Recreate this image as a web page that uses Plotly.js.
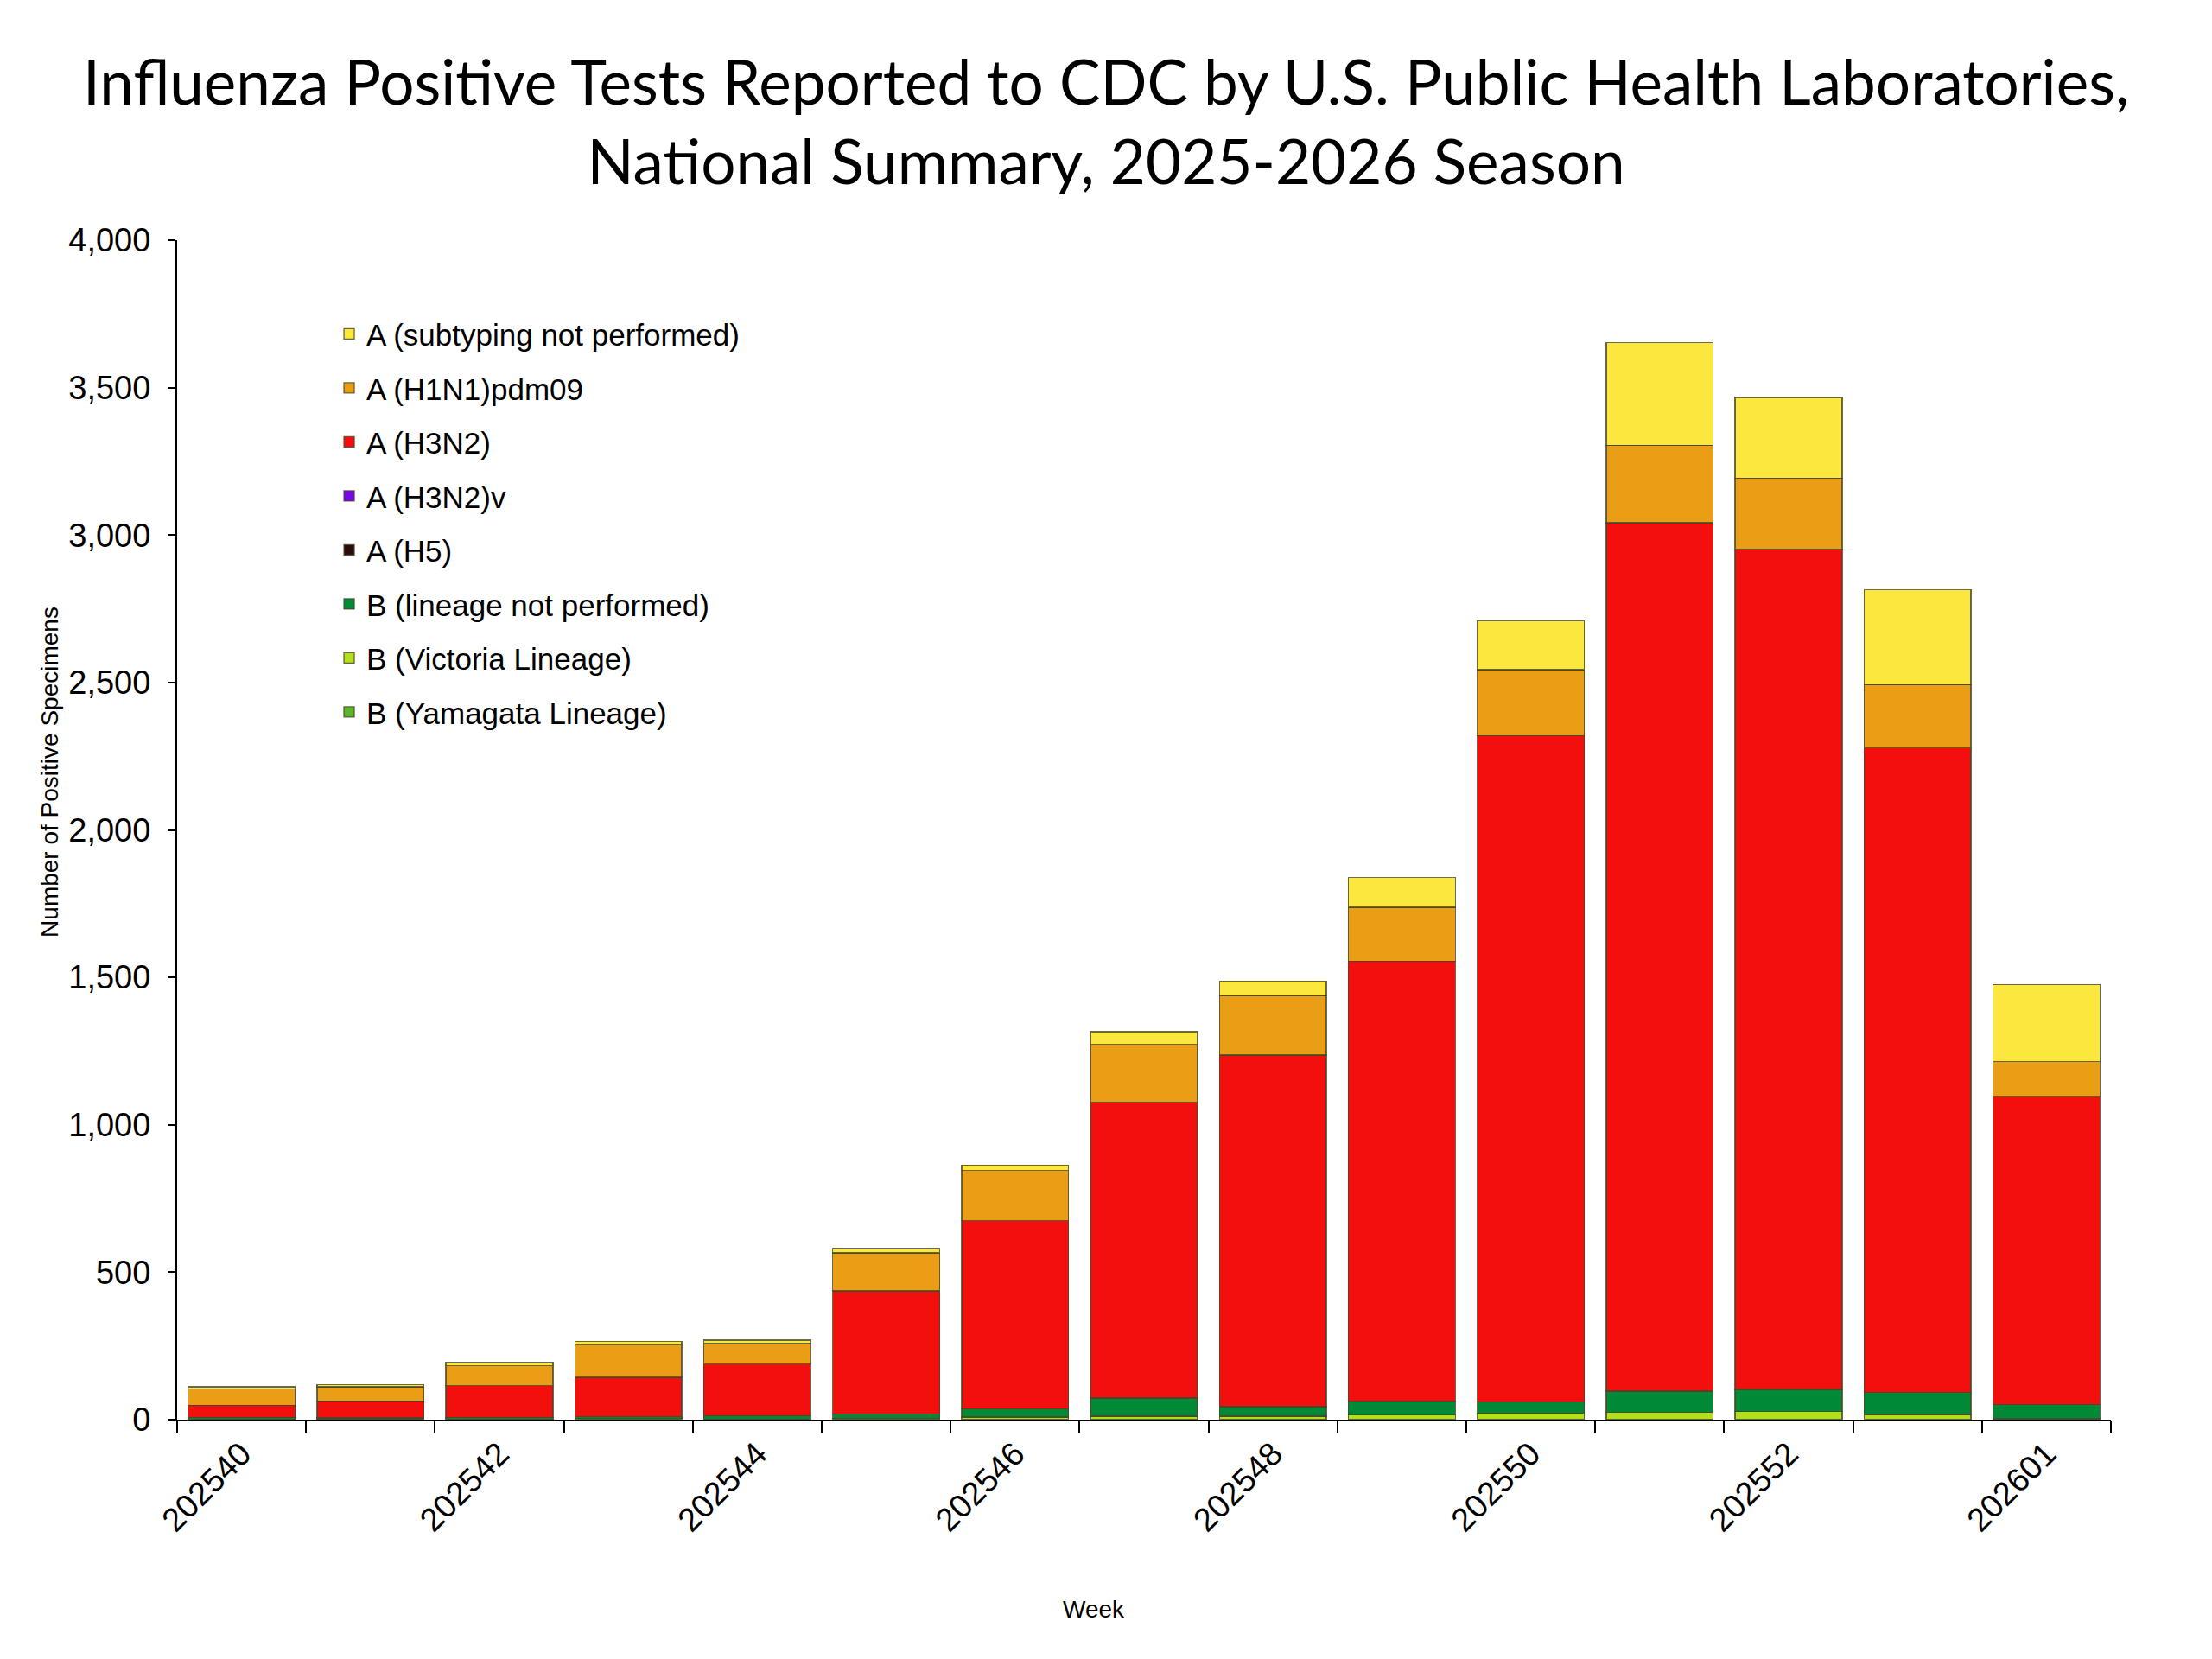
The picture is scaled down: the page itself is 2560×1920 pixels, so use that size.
<!DOCTYPE html>
<html>
<head>
<meta charset="utf-8">
<script src="https://cdn.plot.ly/plotly-3.0.1.min.js"></script>
<style>
  html, body { margin: 0; padding: 0; background: #fff; }
  #plot { width: 2560px; height: 1920px; }
</style>
</head>
<body>
<div id="plot"></div>
<script>
// Semanas epidemiologicas (categorias del eje x)
var weeks = ['202540', '202541', '202542', '202543', '202544', '202545', '202546', '202547',
             '202548', '202549', '202550', '202551', '202552', '202553', '202601'];

// Solo se rotula una semana de cada dos
var weekLabels = ['202540', '', '202542', '', '202544', '', '202546', '',
                  '202548', '', '202550', '', '202552', '', '202601'];

// Valores (de abajo hacia arriba en la pila)
var bYamagata     = [0, 0, 0, 0, 0, 0, 0, 0, 0, 0, 0, 0, 0, 0, 0];
var bVictoria     = [1, 1, 2, 4, 2, 5, 9, 12, 12, 16, 22, 24, 27, 18, 3];
var bNotPerformed = [7, 5, 5, 6, 11, 14, 27, 61, 32, 47, 39, 73, 76, 74, 48];
var aH5           = [0, 0, 0, 0, 0, 0, 0, 0, 0, 0, 0, 0, 0, 0, 0];
var aH3N2v        = [0, 0, 0, 0, 0, 0, 0, 0, 0, 0, 0, 0, 0, 0, 0];
var aH3N2         = [41, 58, 108, 134, 176, 418, 639, 1003, 1193, 1492, 2259, 2945, 2849, 2186, 1043];
var aH1N1         = [56, 47, 68, 109, 69, 129, 170, 197, 201, 183, 224, 263, 241, 215, 120];
var aNotSubtyped  = [6, 7, 10, 13, 12, 14, 19, 43, 50, 100, 165, 347, 274, 321, 262];

var yTicks = [0, 500, 1000, 1500, 2000, 2500, 3000, 3500, 4000];

(function (document, window) {
    document.addEventListener("DOMContentLoaded", function () {

        // Serie de barras apiladas; rango = posicion en la leyenda
        function serie(nombre, valores, color, rango) {
            return {
                type: 'bar',
                name: nombre,
                legendgroup: nombre,
                legendrank: rango,
                x: weeks,
                y: valores,
                marker: { color: color, line: { color: 'rgba(70,70,40,0.8)', width: 1.3 } },
                hoverinfo: 'skip'
            };
        }

        var data = [
            serie('B (Yamagata Lineage)', bYamagata, '#5cb52a', 8),
            serie('B (Victoria Lineage)', bVictoria, '#b4df1c', 7),
            serie('B (lineage not performed)', bNotPerformed, '#008a38', 6),
            serie('A (H5)', aH5, '#2e0b0b', 5),
            serie('A (H3N2)v', aH3N2v, '#7a06e6', 4),
            serie('A (H3N2)', aH3N2, '#f40f0f', 3),
            serie('A (H1N1)pdm09', aH1N1, '#e99e15', 2),
            serie('A (subtyping not performed)', aNotSubtyped, '#fbe73d', 1)
        ];

        var arial = 'Liberation Sans, Arial, sans-serif';
        var ejeFont = { family: arial, size: 38, color: '#000' };

        var layout = {
            width: 2560,
            height: 1920,
            paper_bgcolor: '#fff',
            plot_bgcolor: '#fff',
            barmode: 'stack',
            bargap: 0.17,
            margin: { l: 205, r: 117, t: 278, b: 277 },
            title: {
                text: 'Influenza Positive Tests Reported to CDC by U.S. Public Health Laboratories,<br>National Summary, 2025-2026 Season',
                font: { family: 'Lato, Open Sans, sans-serif', size: 71, color: '#000' },
                x: 0.5,
                xanchor: 'center',
                y: 0.937,
                yanchor: 'top'
            },
            xaxis: {
                type: 'category',
                tickmode: 'array',
                tickvals: weeks,
                ticktext: weekLabels,
                tickangle: -45,
                tickson: 'boundaries',
                ticks: 'outside',
                ticklen: 13,
                tickwidth: 2,
                tickcolor: '#000',
                tickfont: ejeFont,
                showline: true,
                linecolor: '#000',
                linewidth: 2,
                showgrid: false,
                zeroline: false
            },
            yaxis: {
                range: [0, 4000],
                tickmode: 'array',
                tickvals: yTicks,
                tickformat: ',d',
                ticks: 'outside',
                ticklen: 9,
                tickwidth: 2,
                tickcolor: '#000',
                tickfont: ejeFont,
                ticklabelstandoff: 12,
                showline: true,
                linecolor: '#000',
                linewidth: 2,
                showgrid: false,
                zeroline: false
            },
            // titulos de los ejes, colocados como en el original
            annotations: [
                {
                    text: 'Number of Positive Specimens',
                    xref: 'paper', yref: 'paper',
                    x: -0.066, y: 0.549,
                    xanchor: 'center', yanchor: 'middle',
                    textangle: -90,
                    showarrow: false,
                    font: { family: arial, size: 28, color: '#000' }
                },
                {
                    text: 'Week',
                    xref: 'paper', yref: 'paper',
                    x: 0.474, y: -0.161,
                    xanchor: 'center', yanchor: 'middle',
                    showarrow: false,
                    font: { family: arial, size: 28, color: '#000' }
                }
            ],
            legend: {
                x: 0.080,
                y: 0.942,
                xanchor: 'left',
                yanchor: 'top',
                traceorder: 'grouped',
                tracegroupgap: 14,
                bgcolor: 'rgba(0,0,0,0)',
                font: { family: arial, size: 35, color: '#000' },
                itemwidth: 30
            },
            showlegend: true
        };

        Plotly.newPlot('plot', data, layout, { displayModeBar: false, staticPlot: true });
    });
})(document, window);
</script>
</body>
</html>
